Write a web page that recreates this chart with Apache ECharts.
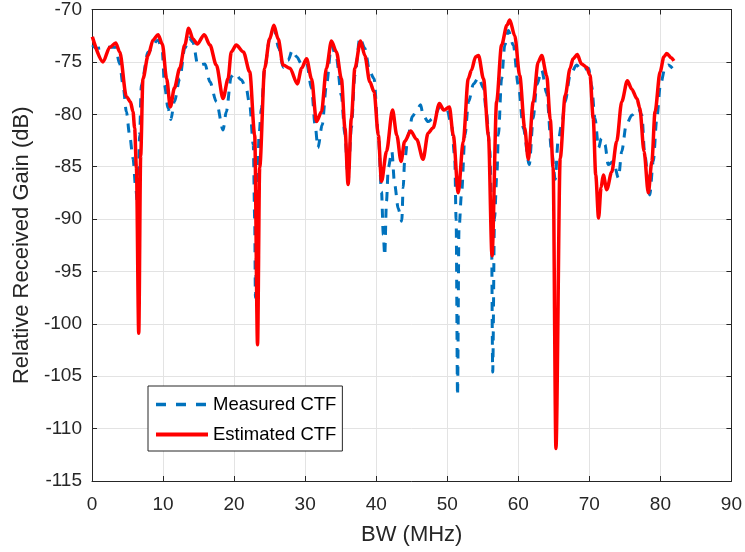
<!DOCTYPE html>
<html>
<head>
<meta charset="utf-8">
<script src="https://cdn.jsdelivr.net/npm/echarts@6/dist/echarts.min.js"></script>
<style>
html,body{margin:0;padding:0;background:#fff;}
#chart{width:745px;height:552px;}
</style>
</head>
<body>
<div id="chart"></div>
<script>
// ---- data ----
const xTicks = [0, 10, 20, 30, 40, 50, 60, 70, 80, 90];
const yTicks = [-115, -110, -105, -100, -95, -90, -85, -80, -75, -70];

const measuredX = [0.05,0.6,2.0,3.3,3.9,4.37,4.84,5.3,5.77,6.15,6.45,6.7,6.94,7.9,9.3,9.9,10.2,10.7,11.1,11.6,12.35,13.06,13.67,14.2,14.9,15.9,16.6,17.5,18.45,18.9,19.6,20.1,21.0,21.7,22.2,22.7,22.9,23.0,23.25,23.5,23.85,24.3,25.0,25.6,26.3,26.9,27.6,28.2,28.8,29.5,30.2,30.9,31.4,31.8,32.4,33.0,33.7,34.4,35.1,35.6,36.05,36.5,37.0,37.7,38.4,39.1,39.7,40.3,40.75,41.0,41.2,41.45,41.7,42.2,42.6,43.1,43.6,43.8,44.0,44.5,45.1,45.7,46.25,46.6,47.3,48.0,49.0,49.9,50.6,51.05,51.25,51.45,51.65,52.0,52.5,53.0,53.7,54.4,55.1,55.5,56.0,56.2,56.4,56.65,57.0,57.2,57.65,58.1,58.6,59.3,60.0,60.7,61.55,62.1,62.6,63.3,64.0,64.7,65.2,65.6,66.1,66.6,67.3,68.2,68.9,69.9,70.3,70.8,71.3,71.7,72.2,72.65,73.4,74.1,74.56,75.2,75.97,76.9,77.4,77.8,78.5,79.0,79.5,80.0,80.65,81.1,81.7];
const measuredY = [-73.4,-73.7,-73.6,-73.6,-75.2,-77.2,-79.75,-82.0,-84.2,-87.0,-89.0,-82.0,-77.2,-74.05,-72.9,-74.05,-77.2,-79.4,-80.5,-78.8,-76.6,-73.7,-72.7,-73.1,-75.3,-75.2,-76.9,-78.8,-81.5,-79.75,-76.4,-76.1,-76.7,-77.5,-79.1,-82.9,-90.0,-97.5,-90.0,-82.0,-79.4,-75.6,-72.8,-71.8,-73.7,-75.5,-74.85,-73.9,-74.5,-75.2,-75.1,-77.5,-81.0,-83.2,-81.0,-77.2,-73.4,-74.6,-78.2,-82.0,-86.4,-81.3,-76.3,-72.7,-73.7,-75.95,-76.6,-82.0,-87.4,-91.5,-93.5,-88.3,-85.1,-83.55,-86.7,-89.0,-90.2,-87.0,-84.5,-82.0,-80.2,-79.6,-79.1,-80.1,-80.7,-80.4,-79.3,-79.4,-81.0,-84.0,-90.0,-106.85,-91.0,-87.7,-82.0,-78.8,-77.1,-76.5,-77.5,-79.75,-83.5,-88.0,-104.6,-90.0,-85.5,-82.0,-76.6,-73.4,-72.0,-73.4,-77.2,-81.3,-84.8,-80.4,-77.2,-75.8,-78.0,-83.55,-86.2,-82.6,-81.0,-78.8,-76.3,-75.3,-75.8,-75.6,-77.2,-80.4,-83.2,-82.3,-82.9,-84.8,-84.5,-86.1,-83.55,-81.0,-80.1,-79.4,-80.1,-83.9,-87.7,-84.5,-80.4,-77.2,-75.6,-75.3,-75.6];

const estimatedX = [0.05,1.55,2.5,3.34,3.9,4.84,5.4,5.77,6.0,6.25,6.58,6.85,7.17,7.9,8.6,9.3,9.9,10.5,11.03,11.6,12.35,13.06,13.6,14.2,14.8,15.8,16.6,17.5,18.45,19.15,19.6,20.3,21.3,22.2,22.9,23.3,23.6,24.3,25.0,25.6,26.2,26.9,27.85,28.9,29.5,30.2,30.9,31.6,32.3,33.0,33.7,34.4,35.1,35.6,36.05,36.5,37.0,37.8,38.4,39.1,39.7,40.3,40.75,41.45,42.3,42.9,43.5,44.0,44.85,45.7,46.6,47.3,48.0,48.9,49.5,50.3,50.85,51.55,52.25,52.96,53.4,54.0,54.4,55.1,55.8,56.3,56.95,57.65,58.4,58.8,59.5,60.2,60.9,61.4,62.1,62.8,63.3,64.0,64.5,64.9,65.3,65.9,66.6,67.3,67.7,68.3,68.9,69.6,70.1,70.55,70.9,71.3,71.65,71.97,72.45,73.15,73.85,74.56,75.35,75.97,76.7,77.1,77.7,78.3,78.8,79.25,79.96,80.5,80.9,81.5,81.9];
const estimatedY = [-72.6,-75.0,-73.6,-73.2,-74.05,-78.3,-78.8,-79.75,-81.3,-85.1,-100.9,-84.0,-76.6,-74.4,-72.9,-72.4,-73.3,-76.6,-79.3,-77.5,-75.6,-73.4,-71.8,-72.8,-73.3,-72.4,-73.4,-75.3,-78.5,-76.6,-74.05,-73.4,-74.05,-75.95,-82.0,-102.0,-85.1,-75.6,-72.8,-71.5,-72.8,-75.3,-75.6,-77.1,-75.6,-74.7,-76.6,-80.7,-79.75,-75.6,-73.0,-74.05,-76.6,-81.3,-86.7,-80.4,-75.6,-73.0,-74.4,-76.9,-77.85,-82.0,-86.4,-83.55,-79.6,-82.0,-84.5,-82.6,-81.6,-82.4,-84.3,-81.8,-81.3,-78.96,-79.6,-79.3,-82.0,-87.5,-82.6,-76.6,-75.8,-74.5,-74.4,-76.6,-82.0,-93.5,-78.8,-73.4,-71.5,-71.0,-72.5,-76.3,-81.3,-84.3,-78.8,-75.0,-74.4,-76.3,-80.5,-85.1,-111.9,-84.2,-78.2,-75.6,-74.7,-74.3,-75.2,-75.5,-76.3,-80.4,-85.8,-89.9,-87.0,-85.8,-87.2,-85.5,-82.6,-78.8,-76.8,-77.6,-78.5,-79.4,-83.55,-87.5,-84.5,-79.75,-75.95,-74.5,-74.2,-74.6,-74.9];

const seriesNames = ['Measured CTF', 'Estimated CTF'];

function pairs(xs, ys) { return xs.map((x, i) => [x, ys[i]]); }

const FONT = '"Liberation Sans", Arial, Helvetica, sans-serif';
const AX = '#262626';

const chart = echarts.init(document.getElementById('chart'), null, {renderer: 'canvas'});

const commonTick = {show: true, inside: true, length: 5, lineStyle: {color: AX, width: 1}};

chart.setOption({
  animation: false,
  backgroundColor: '#fff',
  grid: {left: 92, right: 13, top: 7, bottom: 71, containLabel: false},
  legend: {
    orient: 'vertical',
    left: 148, top: 386,
    data: [
      {name: seriesNames[0], lineStyle: {width: 3.5, type: [10, 10]}},
      {name: seriesNames[1], lineStyle: {width: 4}}
    ],
    itemWidth: 52, itemHeight: 14, itemGap: 11,
    padding: [9, 6, 7, 6],
    borderColor: AX, borderWidth: 1, backgroundColor: '#fff',
    itemStyle: {opacity: 0},
    textStyle: {fontFamily: FONT, fontSize: 18.5, color: '#000', padding: [0, 0, 0, 0]}
  },
  xAxis: [{
    type: 'value', min: xTicks[0], max: xTicks[xTicks.length - 1], interval: 10,
    position: 'bottom',
    name: 'BW (MHz)', nameLocation: 'middle', nameGap: 43,
    nameTextStyle: {fontFamily: FONT, fontSize: 22, color: AX},
    axisLine: {show: true, onZero: false, lineStyle: {color: AX, width: 1}},
    axisTick: commonTick,
    axisLabel: {fontFamily: FONT, fontSize: 19, color: AX, margin: 14},
    splitLine: {show: true, lineStyle: {color: '#e3e3e3', width: 1}}
  }, {
    type: 'value', min: xTicks[0], max: xTicks[xTicks.length - 1], interval: 10,
    position: 'top',
    axisLine: {show: true, onZero: false, lineStyle: {color: AX, width: 1}},
    axisTick: commonTick, axisLabel: {show: false}, splitLine: {show: false}
  }],
  yAxis: [{
    type: 'value', min: yTicks[0], max: yTicks[yTicks.length - 1], interval: 5,
    position: 'left',
    name: 'Relative Received Gain (dB)', nameLocation: 'middle', nameGap: 56,
    nameTextStyle: {fontFamily: FONT, fontSize: 22, color: AX},
    axisLine: {show: true, onZero: false, lineStyle: {color: AX, width: 1}},
    axisTick: commonTick,
    axisLabel: {fontFamily: FONT, fontSize: 19, color: AX, margin: 10},
    splitLine: {show: true, lineStyle: {color: '#e3e3e3', width: 1}}
  }, {
    type: 'value', min: yTicks[0], max: yTicks[yTicks.length - 1], interval: 5,
    position: 'right',
    axisLine: {show: true, onZero: false, lineStyle: {color: AX, width: 1}},
    axisTick: commonTick, axisLabel: {show: false}, splitLine: {show: false}
  }],
  series: [{
    name: seriesNames[0], type: 'line',
    data: pairs(measuredX, measuredY),
    symbol: 'none', smooth: 0.3, smoothMonotone: 'x',
    lineStyle: {color: '#0072BD', width: 3, type: [9, 8]},
    itemStyle: {color: '#0072BD'},
    z: 2
  }, {
    name: seriesNames[1], type: 'line',
    data: pairs(estimatedX, estimatedY),
    symbol: 'none', smooth: 0.3, smoothMonotone: 'x',
    lineStyle: {color: '#FF0000', width: 3.5},
    itemStyle: {color: '#FF0000'},
    z: 3
  }]
});
</script>
</body>
</html>
